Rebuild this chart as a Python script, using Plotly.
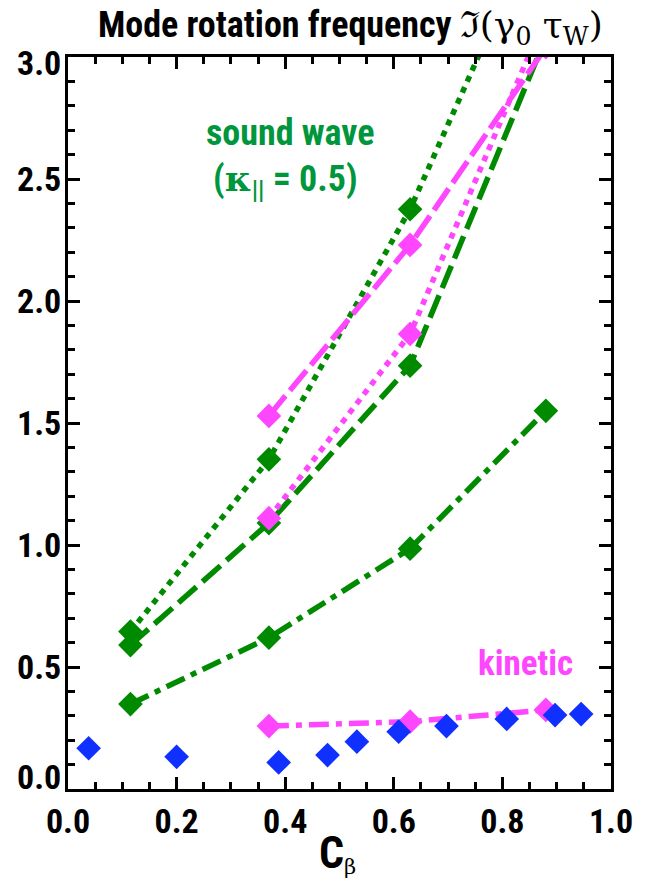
import plotly.graph_objects as go

# ---- data ----
cb = [0.115, 0.37, 0.63, 0.88]

green_dot = [0.645, 1.351, 2.376, 3.62]
green_dash = [0.59, 1.09, 1.735, 3.08]
green_dashdot = [0.348, 0.62, 0.985, 1.55]

pink_x = [0.37, 0.63, 0.88]
pink_dash = [1.529, 2.23, 3.04]
pink_dot = [1.11, 1.865, 3.17]
pink_kinetic = [0.258, 0.276, 0.324]

blue_x = [0.038, 0.200, 0.388, 0.478, 0.532, 0.609, 0.697, 0.808, 0.897, 0.945]
blue_y = [0.167, 0.132, 0.109, 0.139, 0.194, 0.235, 0.258, 0.287, 0.303, 0.307]

x_ticks = [0.0, 0.2, 0.4, 0.6, 0.8, 1.0]
y_ticks = [0.0, 0.5, 1.0, 1.5, 2.0, 2.5, 3.0]

GREEN = "rgb(0,138,0)"
PINK = "rgb(255,70,255)"
BLUE = "rgb(16,48,255)"
TEXT_GREEN = "rgb(0,150,60)"
FONT = "Liberation Sans Narrow, Roboto Condensed, Liberation Sans, Arial"
SERIF = "DejaVu Serif, Liberation Serif, serif"

MS = 19
LW = 5.5
TICKSIZE = 34

fig = go.Figure()

def add(x, y, color, dash):
    fig.add_trace(go.Scatter(
        x=x, y=y, mode="lines+markers",
        line=dict(color=color, width=LW, dash=dash),
        marker=dict(symbol="diamond", size=MS, color=color, line=dict(width=0)),
        showlegend=False, cliponaxis=True,
    ))

add(cb, green_dash, GREEN, "24px,8px")
add(cb, green_dot, GREEN, "6px,6px")
add(cb, green_dashdot, GREEN, "20px,7px,6px,7px")
add(pink_x, pink_dash, PINK, "26px,7px")
add(pink_x, pink_dot, PINK, "6px,6px")
add(pink_x, pink_kinetic, PINK, "20px,7px,6px,7px")

fig.add_trace(go.Scatter(
    x=blue_x, y=blue_y, mode="markers",
    marker=dict(symbol="diamond", size=MS, color=BLUE, line=dict(width=0)),
    showlegend=False,
))

axis_common = dict(
    showgrid=False, zeroline=False, showline=True, linecolor="black", linewidth=2.5,
    mirror="allticks", ticks="inside", ticklen=12, tickwidth=2.5, tickcolor="black",
    tickfont=dict(family=FONT, size=TICKSIZE, color="black", weight="bold"),
)

fig.update_xaxes(
    range=[0, 1], tickvals=x_ticks, ticktext=[f"{v:.1f}" for v in x_ticks],
    ticklabelstandoff=0,
    minor=dict(dtick=0.05, ticks="inside", ticklen=7, tickwidth=2.5, tickcolor="black", showgrid=False),
    **axis_common,
)
fig.update_yaxes(
    range=[0, 3], tickvals=y_ticks, showticklabels=False,
    minor=dict(dtick=0.1, ticks="inside", ticklen=7, tickwidth=2.5, tickcolor="black", showgrid=False),
    **axis_common,
)

annots = [
    dict(xref="paper", yref="paper", x=0.52, y=1.0, yshift=4, xanchor="center", yanchor="bottom",
         text=("<b>Mode rotation frequency</b> "
               f"<span style='font-family:{SERIF}'>ℑ(γ<sub>0</sub> τ<sub>W</sub>)</span>"),
         font=dict(family=FONT, size=36, color="black")),
    dict(xref="paper", yref="paper", x=0.497, y=0, yshift=-64, xanchor="center", yanchor="middle",
         text=f"<b>C</b><span style='font-family:{SERIF};font-size:30px'><sub>β</sub></span>",
         font=dict(family=FONT, size=44, color="black")),
    dict(xref="x", yref="y", x=0.408, y=2.69, xanchor="center", yanchor="middle",
         text="<b>sound wave</b>", font=dict(family=FONT, size=36, color=TEXT_GREEN)),
    dict(xref="x", yref="y", x=0.40, y=2.49, xanchor="center", yanchor="middle",
         text=f"<b>(<span style='font-family:{SERIF}'>κ</span><sub>||</sub> = 0.5)</b>",
         font=dict(family=FONT, size=36, color=TEXT_GREEN)),
    dict(xref="x", yref="y", x=0.843, y=0.516, xanchor="center", yanchor="middle",
         text="<b>kinetic</b>", font=dict(family=FONT, size=35, color=PINK)),
]
# y tick labels (end labels nudged inward as in the reference)
for v in y_ticks:
    shift = -6 if v == 3.0 else (12 if v == 0.0 else 0)
    annots.append(dict(xref="paper", yref="y", x=0, y=v, xanchor="right", yanchor="middle",
                       xshift=-5, yshift=shift, text=f"<b>{v:.1f}</b>",
                       font=dict(family=FONT, size=TICKSIZE, color="black")))
for a in annots:
    a["showarrow"] = False
    fig.add_annotation(**a)

fig.update_layout(
    width=645, height=882,
    margin=dict(l=68, r=29, t=57, b=93),
    paper_bgcolor="white", plot_bgcolor="white",
    showlegend=False,
)

fig.write_html("out.html")
